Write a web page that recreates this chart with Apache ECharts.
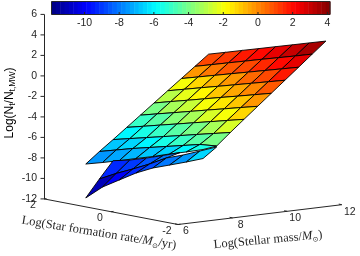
<!DOCTYPE html>
<html><head><meta charset="utf-8">
<style>html,body{margin:0;padding:0;background:#fff}#c{width:360px;height:256px}</style>
<script src="https://cdn.jsdelivr.net/npm/echarts@6/dist/echarts.min.js"></script>
</head><body><div id="c"></div>
<script>
const massValues=[7.53,8.03,8.53,9.03,9.53,10.03,10.53,11.03,11.53,12.03];
const sfrValues=[2,1.5,1,0.5,0,-0.5,-1,-1.5];
const zUpper=[
[-9.09,-8.63,-8.14,-7.61,-7.11,-6.55,-6.04,-5.49],
[-8.03,-7.57,-7.11,-6.70,-6.29,-5.88,-5.47,-5.31],
[-7.03,-6.62,-6.21,-5.80,-5.39,-4.97,-4.56,-4.15],
[-6.00,-5.58,-5.15,-4.73,-4.30,-3.88,-3.45,-3.03],
[-4.97,-4.53,-4.10,-3.66,-3.22,-2.79,-2.35,-1.92],
[-3.94,-3.49,-3.05,-2.60,-2.15,-1.71,-1.26,-0.81],
[-2.91,-2.45,-1.99,-1.54,-1.08,-0.62,-0.16,0.30],
[-1.88,-1.41,-0.94,-0.47,0,0.47,0.94,1.41],
[-0.85,-0.37,0.12,0.60,1.09,1.56,2.04,2.53],
[0.18,0.67,1.17,1.66,2.16,2.65,3.15,3.64]];
const colorUpper=[
[-7.6,-7.3,-7,-6.7,-6.4,-6,-5.4],
[-6.8,-6.4,-6,-5.6,-5.1,-4.6,-3.9],
[-5.9,-5.4,-4.9,-4.4,-3.9,-3.3,-2.5],
[-5,-4.4,-3.8,-3.2,-2.6,-1.9,-1.2],
[-3.9,-3.3,-2.7,-2.1,-1.5,-0.9,-0.2],
[-2.9,-2.3,-1.7,-1.1,-0.5,0.1,0.8],
[-1.9,-1.3,-0.7,-0.2,0.4,1.1,1.8],
[-0.3,0.2,0.7,1.1,1.6,2.1,2.6],
[0.9,1.3,1.7,2.1,2.5,3.0,3.4]];
const zLower=[
[-12.40,-11.02,-10.02,-9.03,-8.23,-7.63,-7.02,-6.37],
[-10.71,-9.86,-9.11,-8.31,-7.41,-6.81,-6.11,-5.40],
[-9.09,-8.71,-8.20,-7.64,-7.04]];
const colorLower=[
[-11,-10,-9.3,-8.8,-8.0,-7.4,-6.5],
[-9.3,-8.9,-8.5,-8.1]];
const zTicks=[6,4,2,0,-2,-4,-6,-8,-10,-12];
const massTicks=[6,8,10,12];
const sfrTicks=[2,0,-2];
const barTicks=[-10,-8,-6,-4,-2,0,2,4];
const colorMin=-11.9,colorMax=4.15,colorLevels=64;

const ORI={x:178,y:224.5},MX=27.3,MY=-3.3,SX=-33.5,SY=-6.4,ZY=-10.25;
const SANS='"Liberation Sans",Arial,sans-serif',SERIF='"Liberation Serif","DejaVu Serif",serif';
const INK='#262626';
function P(m,s,z){const dm=m-6,ds=s+2;return [ORI.x+MX*dm+SX*ds,ORI.y+MY*dm+SY*ds+ZY*(z+12)];}
function jet(v){
  let t=(v-colorMin)/(colorMax-colorMin);t=Math.max(0,Math.min(0.9999,t));
  t=(Math.floor(t*colorLevels)+0.5)/colorLevels;
  const f=c=>Math.round(255*Math.max(0,Math.min(1,1.5-Math.abs(4*t-c))));
  return `rgb(${f(3)},${f(2)},${f(1)})`;
}
const cells=[];
function addCells(zg,cg){
  for(let r=cg.length-1;r>=0;r--)for(let j=0;j<cg[r].length;j++){
    cells.push({pts:[[r,j],[r,j+1],[r+1,j+1],[r+1,j]].map(([a,b])=>P(massValues[a],sfrValues[b],zg[a][b])),v:cg[r][j]});
  }
}
addCells(zUpper,colorUpper);
addCells(zLower,colorLower);

function text(api,x,y,t,o){
  const c=api.coord([x,y]);
  return {type:'text',x:c[0],y:c[1],rotation:o&&o.rot||0,silent:true,style:Object.assign({text:t,fill:INK,font:`10.5px ${SANS}`,align:'center',verticalAlign:'middle'},o&&o.style)};
}
function line(api,a,b,w){
  const p=api.coord(a),q=api.coord(b);
  return {type:'line',silent:true,shape:{x1:p[0],y1:p[1],x2:q[0],y2:q[1]},style:{stroke:INK,lineWidth:w||1}};
}
const serifRich={a:{fontFamily:SERIF,fontSize:12.5,fill:INK,lineHeight:15},i:{fontFamily:SERIF,fontSize:12.5,fontStyle:'italic',fill:INK,lineHeight:15},
  s:{fontFamily:'"DejaVu Sans"',fontSize:7,fill:INK,lineHeight:15,verticalAlign:'bottom',padding:[5,0,0,0]}};
const sansRich={a:{fontFamily:SANS,fontSize:12,fill:'#000',lineHeight:15},s:{fontFamily:SANS,fontSize:8.5,fill:'#000',lineHeight:15,verticalAlign:'bottom',padding:[5,0,0,0]}};

function drawSurface(params,api){
  const d=cells[params.dataIndex];
  return {type:'polygon',silent:true,shape:{points:d.pts.map(p=>api.coord(p))},style:{fill:jet(d.v),stroke:'#000',lineWidth:0.9}};
}
function drawAxes(params,api){
  const kids=[];
  kids.push(line(api,[44.5,14.5],[44.5,199]));
  zTicks.forEach(z=>{const y=P(6,2,z)[1];kids.push(line(api,[40.5,y],[44.5,y]));kids.push(text(api,37,y,String(z),{style:{align:'right'}}));});
  kids.push(line(api,P(6,2,-12),P(6,-2,-12)));
  kids.push(line(api,P(6,-2,-12),P(12,-2,-12)));
  sfrTicks.forEach(s=>{const p=P(6,s,-12);kids.push(line(api,p,[p[0]+2.5,p[1]-0.3]));kids.push(text(api,p[0]-11,p[1]+6.5,String(s)));});
  massTicks.forEach(m=>{const p=P(m,-2,-12);kids.push(line(api,p,[p[0]-3,p[1]-0.6]));kids.push(text(api,p[0]+8,p[1]+7,String(m)));});
  kids.push(text(api,99,233,'{a|Log(Star formation rate/}{i|M}{s|⊙}{a|/yr)}',{rot:-9.3*Math.PI/180,style:{rich:serifRich,font:undefined}}));
  kids.push(text(api,268,240,'{a|Log(Stellar mass/}{i|M}{s|⊙}{a|)}',{rot:5.3*Math.PI/180,style:{rich:serifRich,font:undefined}}));
  kids.push(text(api,10,103,'{a|Log(N}{s|t}{a|/N}{s|t,MW}{a|)}',{rot:Math.PI/2,style:{rich:sansRich,font:undefined}}));
  return {type:'group',children:kids};
}
function drawBar(params,api){
  const kids=[],L=51.5,R=330,T=1.5,B=14.5;
  for(let i=0;i<colorLevels;i++){
    const a=api.coord([L+(R-L)*i/colorLevels,T]),b=api.coord([L+(R-L)*(i+1)/colorLevels+0.5,B]);
    kids.push({type:'rect',silent:true,shape:{x:a[0],y:a[1],width:b[0]-a[0],height:b[1]-a[1]},style:{fill:jet(colorMin+(colorMax-colorMin)*(i+0.5)/colorLevels)}});
  }
  const a=api.coord([L,T]),b=api.coord([R,B]);
  kids.push({type:'rect',silent:true,shape:{x:a[0],y:a[1],width:b[0]-a[0],height:b[1]-a[1]},style:{fill:'none',stroke:INK,lineWidth:1}});
  barTicks.forEach(t=>{const x=L+(R-L)*(t-colorMin)/(colorMax-colorMin);
    kids.push(line(api,[x,B-2.5],[x,B]));
    kids.push(text(api,x,23.5,String(t)));});
  return {type:'group',children:kids};
}
const chart=echarts.init(document.getElementById('c'),null,{renderer:'canvas'});
chart.setOption({
  animation:false,backgroundColor:'#fff',
  grid:{left:0,right:0,top:0,bottom:0},
  xAxis:{type:'value',min:0,max:360,show:false},
  yAxis:{type:'value',min:0,max:256,inverse:true,show:false},
  series:[
    {type:'custom',clip:false,silent:true,renderItem:drawAxes,data:[0]},
    {type:'custom',clip:false,silent:true,renderItem:drawSurface,data:cells.map((c,i)=>i)},
    {type:'custom',clip:false,silent:true,renderItem:drawBar,data:[0]}
  ]
});
</script></body></html>
